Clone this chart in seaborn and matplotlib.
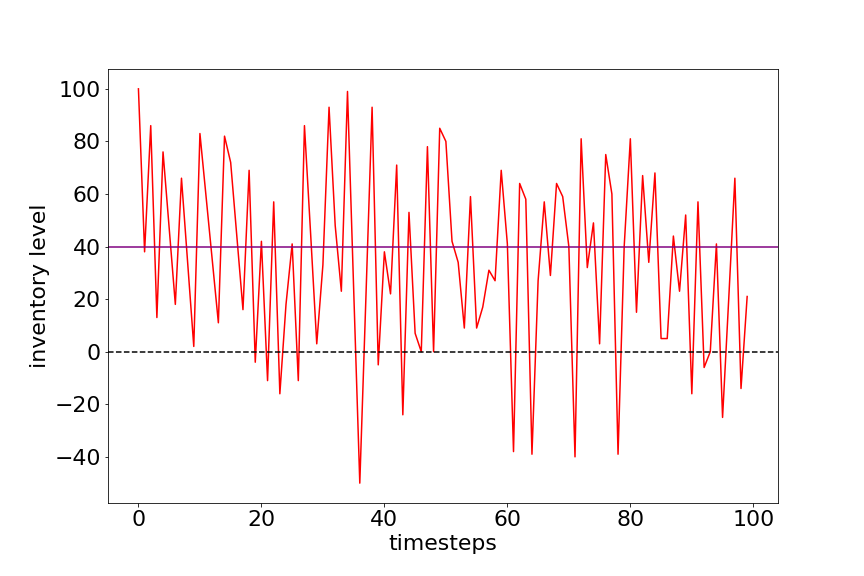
import matplotlib
matplotlib.use("Agg")
import matplotlib.pyplot as plt
import seaborn as sns
import pandas as pd

# inventory level per timestep
inventory = [
    100, 38, 86, 13, 76, 47, 18, 66, 34, 2,
    83, 59, 35, 11, 82, 72, 44, 16, 69, -4,
    42, -11, 57, -16, 18, 41, -11, 86, 45, 3,
    33, 93, 48, 23, 99, 24, -50, 21, 93, -5,
    38, 22, 71, -24, 53, 7, 0, 78, 0, 85,
    80, 42, 34, 9, 59, 9, 17, 31, 27, 69,
    41, -38, 64, 58, -39, 27, 57, 29, 64, 59,
    40, -40, 81, 32, 49, 3, 75, 60, -39, 40,
    81, 15, 67, 34, 68, 5, 5, 44, 23, 52,
    -16, 57, -6, 0, 41, -25, 20, 66, -14, 21,
]
timesteps = list(range(len(inventory)))
target_level = 40
zero_level = 0

df = pd.DataFrame({"timesteps": timesteps, "inventory level": inventory})

fig, ax = plt.subplots(figsize=(12, 8), dpi=72)
sns.lineplot(data=df, x="timesteps", y="inventory level", color="red", ax=ax)
ax.axhline(target_level, color="purple")
ax.axhline(zero_level, color="black", linestyle="--")

ax.set_xlabel("timesteps", fontsize=22)
ax.set_ylabel("inventory level", fontsize=22)
ax.tick_params(labelsize=22)

plt.subplots_adjust(left=0.125, right=0.9, top=0.88, bottom=0.127)
fig.savefig("out.png", dpi=72)
plt.close(fig)
